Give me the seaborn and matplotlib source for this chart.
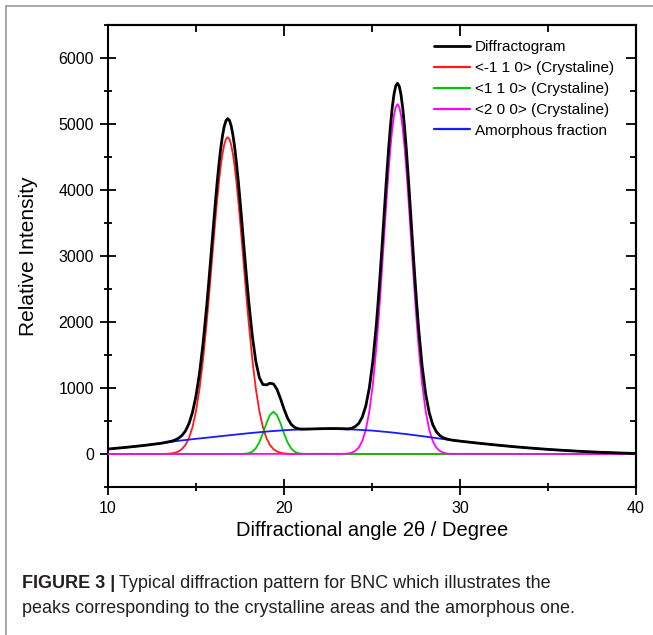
import numpy as np
import pandas as pd
import matplotlib
matplotlib.use('Agg')
import matplotlib.pyplot as plt
import seaborn as sns
from matplotlib.ticker import MultipleLocator, NullFormatter
from matplotlib.lines import Line2D

# values (intensity vs 2theta)
red_x = np.concatenate([[10],
                        np.round(np.arange(13.2, 15.61, 0.2), 2),
                        np.round(np.arange(15.7, 17.91, 0.1), 2),
                        np.round(np.arange(18.0, 20.41, 0.2), 2),
                        [40]])
red_y = [0,
         1, 4, 9, 19, 38, 74, 137, 242, 406, 650, 988, 1431, 1973,
         2274, 2589, 2911, 3233, 3547, 3843, 4113, 4349, 4540, 4683, 4770, 4800,
         4770, 4683, 4540, 4349, 4113, 3843, 3547, 3233, 2911, 2589, 2274,
         1973, 1431, 988, 650, 406, 242, 137, 74, 38, 19, 9, 4, 1,
         0]

green_x = np.concatenate([[10], np.round(np.arange(17.6, 21.21, 0.2), 2), [40]])
green_y = [0, 1, 4, 13, 36, 87, 178, 312, 465, 591, 640, 591, 465, 312, 178, 87, 36, 13, 4, 1, 0]

magenta_x = np.concatenate([[10],
                            np.round(np.arange(23.45, 25.26, 0.2), 2),
                            np.round(np.arange(25.35, 27.56, 0.1), 2),
                            np.round(np.arange(27.65, 29.46, 0.2), 2),
                            [40]])
magenta_y = [0,
             3, 8, 20, 47, 99, 198, 370, 647, 1058, 1623,
             1961, 2330, 2724, 3132, 3543, 3943, 4315, 4647, 4922, 5129, 5257, 5300,
             5257, 5129, 4922, 4647, 4315, 3943, 3543, 3132, 2724, 2330, 1961,
             1623, 1058, 647, 370, 198, 99, 47, 20, 8, 3,
             0]

blue_x = np.arange(10, 41, 1)
blue_y = [75, 100, 128, 160, 200, 230, 258, 287, 315, 340, 360, 373, 380, 378, 370, 355,
          330, 300, 265, 228, 195, 165, 138, 112, 90, 70, 53, 38, 26, 16, 8]

black_x = np.concatenate([[10, 11, 12, 13],
                          np.round(np.arange(13.6, 15.61, 0.2), 2),
                          np.round(np.arange(15.7, 17.91, 0.1), 2),
                          np.round(np.arange(18.0, 21.01, 0.2), 2),
                          [21.5, 22, 22.5, 23, 23.3],
                          np.round(np.arange(23.65, 25.26, 0.2), 2),
                          np.round(np.arange(25.35, 27.56, 0.1), 2),
                          np.round(np.arange(27.65, 29.26, 0.2), 2),
                          [29.5, 30, 31, 32, 33, 34, 35, 36, 37, 38, 39, 40]])
black_y = [75, 100, 128, 162,
           193, 211, 238, 280, 349, 460, 630, 880, 1224, 1672, 2220,
           2524, 2841, 3166, 3491, 3808, 4107, 4380, 4619, 4813, 4958, 5048, 5081,
           5054, 4970, 4830, 4642, 4408, 4141, 3848, 3537, 3217, 2898, 2593,
           2301, 1787, 1400, 1158, 1053, 1047, 1072, 1062, 981, 840, 681, 545, 452, 404, 383, 377,
           379, 383, 386, 386, 384,
           381, 391, 416, 465, 561, 730, 1004, 1412, 1972,
           2307, 2674, 3065, 3471, 3879, 4277, 4646, 4976, 5248, 5452, 5577, 5617,
           5571, 5440, 5230, 4952, 4617, 4241, 3838, 3423, 3012, 2614, 2242,
           1900, 1328, 910, 626, 446, 340, 280, 246, 227,
           212, 195, 165, 138, 112, 90, 70, 53, 38, 26, 16, 8]

labels = ['Diffractogram', '<-1 1 0> (Crystaline)', '<1 1 0> (Crystaline)',
          '<2 0 0> (Crystaline)', 'Amorphous fraction']
colors = ['black', '#ff1a1a', '#00c800', '#ff00ff', '#1a1aff']

sns.set_style('ticks', rc={'axes.edgecolor': 'black', 'text.color': 'black',
                           'axes.labelcolor': 'black', 'xtick.color': 'black',
                           'ytick.color': 'black'})
plt.rcParams['font.family'] = ['Liberation Sans', 'DejaVu Sans']

W, H = 653, 635
fig = plt.figure(figsize=(W / 100, H / 100), dpi=100)
ax = fig.add_axes([108 / W, 1 - 487 / H, (636 - 108) / W, (487 - 25) / H])

sns.lineplot(x=black_x, y=black_y, color=colors[0], lw=2.0, ax=ax, zorder=6)
sns.lineplot(x=red_x, y=red_y, color=colors[1], lw=1.3, ax=ax, zorder=2)
sns.lineplot(x=green_x, y=green_y, color=colors[2], lw=1.3, ax=ax, zorder=3)
sns.lineplot(x=magenta_x, y=magenta_y, color=colors[3], lw=1.3, ax=ax, zorder=4)
sns.lineplot(x=blue_x, y=blue_y, color=colors[4], lw=1.3, ax=ax, zorder=5)

ax.set_xlim(10, 40)
ax.set_ylim(-500, 6500)
ax.xaxis.set_major_locator(MultipleLocator(10))
ax.xaxis.set_minor_locator(MultipleLocator(5))
ax.yaxis.set_major_locator(MultipleLocator(1000))
ax.yaxis.set_minor_locator(MultipleLocator(500))
ax.tick_params(which='major', direction='inout', length=12, width=1.3, labelsize=11.5, pad=4)
ax.tick_params(which='minor', direction='inout', length=6, width=1.3)
for s in ax.spines.values():
    s.set_linewidth(1.5)
    s.set_visible(True)

secx = ax.secondary_xaxis('top')
secx.xaxis.set_major_locator(MultipleLocator(10))
secx.xaxis.set_minor_locator(MultipleLocator(5))
secx.xaxis.set_major_formatter(NullFormatter())
secx.tick_params(which='major', direction='in', length=8, width=1.3)
secx.tick_params(which='minor', direction='in', length=5, width=1.3)
secx.spines['top'].set_linewidth(1.5)
secy = ax.secondary_yaxis('right')
secy.yaxis.set_major_locator(MultipleLocator(1000))
secy.yaxis.set_minor_locator(MultipleLocator(500))
secy.yaxis.set_major_formatter(NullFormatter())
secy.tick_params(which='major', direction='in', length=7, width=1.3)
secy.tick_params(which='minor', direction='in', length=4, width=1.3)
secy.spines['right'].set_linewidth(1.5)

ax.set_xlabel('Diffractional angle 2θ / Degree', fontsize=14.5)
ax.set_ylabel('Relative Intensity', fontsize=15)
ax.xaxis.set_label_coords(0.5, -0.073)
ax.yaxis.set_label_coords(-0.133, 0.5)

handles = [Line2D([], [], color=c, lw=2.0 if i == 0 else 1.6) for i, c in enumerate(colors)]
ax.legend(handles, labels, loc='upper right', bbox_to_anchor=(0.958, 0.967), frameon=False,
          fontsize=11, handlelength=2.4, handletextpad=0.28, labelspacing=0.45,
          borderpad=0, borderaxespad=0)

# outer frame of the figure panel
fig.add_artist(Line2D([6 / W, 1], [1 - 6 / H, 1 - 6 / H], color='#9a9a9a', lw=1.2))
fig.add_artist(Line2D([6 / W, 6 / W], [0, 1 - 6 / H], color='#9a9a9a', lw=1.2))

# caption
cap = fig.text(22 / W, 1 - 588 / H, 'FIGURE 3 |', fontsize=13, weight='bold',
               va='baseline', color='#231f20')
fig.canvas.draw()
bb = cap.get_window_extent()
fig.text((bb.x1 + 4) / W, 1 - 588 / H, 'Typical diffraction pattern for BNC which illustrates the',
         fontsize=13, va='baseline', color='#231f20')
fig.text(22 / W, 1 - 613 / H, 'peaks corresponding to the crystalline areas and the amorphous one.',
         fontsize=13, va='baseline', color='#231f20')

fig.savefig('out.png', dpi=100)
